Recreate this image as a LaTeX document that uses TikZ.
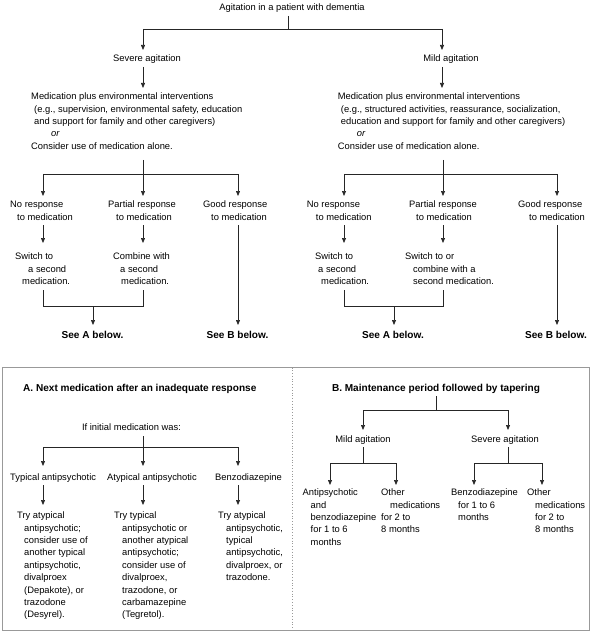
\documentclass[tikz,border=0pt]{standalone}
\usepackage{fontspec}
\setmainfont{Liberation Sans}
\usetikzlibrary{arrows.meta}
\newcommand\fs{\fontsize{9.4}{12.45}\selectfont}
\newcommand\fb{\fontsize{10.1}{12.45}\selectfont\bfseries}
\newcommand\ii[1]{\hspace*{#1bp}}
\begin{document}
\begin{tikzpicture}[x=1bp,y=-1bp,
 ln/.style={draw=black!85, line width=0.7bp},
 ar/.style={ln, -{Triangle[length=5bp,width=4bp]}},
 tl/.style={anchor=north west, inner sep=0pt, align=left, font=\fs, yshift=8.7bp},
 tc/.style={anchor=base, inner sep=0pt, font=\fs},
 tw/.style={anchor=base west, inner sep=0pt, font=\fs},
 bx/.style={draw=black!40, line width=1bp}]
\useasboundingbox (0,0) rectangle (592,632);

% ---------- top part ----------
\node[tc] (top) at (292,10.5) {Agitation in a patient with dementia};
\coordinate (t0) at (288,16);
\coordinate (j0) at (288,29);
\coordinate (jl) at (143,29);
\coordinate (jr) at (442,29);
\draw[ln] (t0) -- (j0);
\draw[ln] (jl) -- (jr);
\draw[ar] (jl) -- (143,50);
\draw[ar] (jr) -- (442,50);

\node[tc] (sev) at (147,61.5) {Severe agitation};
\node[tc] (mild) at (451,61.5) {Mild agitation};
\draw[ar] (143,67) -- (143,88);
\draw[ar] (442,67) -- (442,88);

\node[tl] (lblock) at (31,99.5) {\strut Medication plus environmental interventions\\
\ii{3}(e.g., supervision, environmental safety, education\\
\ii{3}and support for family and other caregivers)\\
\ii{20}\textit{or}\\
Consider use of medication alone.};
\node[tl] (rblock) at (337.7,99.5) {\strut Medication plus environmental interventions\\
\ii{3}(e.g., structured activities, reassurance, socialization,\\
\ii{3}education and support for family and other caregivers)\\
\ii{19}\textit{or}\\
Consider use of medication alone.};

% left branch split
\coordinate (l0) at (143,160);
\coordinate (l1) at (143,174);
\draw[ln] (l0) -- (l1);
\draw[ln] (43,174) -- (238,174);
\draw[ar] (43,174) -- (43,196);
\draw[ar] (l1) -- (143,196);
\draw[ar] (238,174) -- (238,196);
% right branch split
\coordinate (r0) at (443,160);
\coordinate (r1) at (443,174);
\draw[ln] (r0) -- (r1);
\draw[ln] (344,174) -- (557,174);
\draw[ar] (344,174) -- (344,196);
\draw[ar] (r1) -- (443,196);
\draw[ar] (557,174) -- (557,196);

% responses
\node[tl] (lno) at (10,207.5) {\strut No response\\ \ii{7}to medication};
\node[tl] (lpart) at (108,207.5) {\strut Partial response\\ \ii{8}to medication};
\node[tl] (lgood) at (203,207.5) {\strut Good response\\ \ii{8}to medication};
\node[tl] (rno) at (306.7,207.5) {\strut No response\\ \ii{9}to medication};
\node[tl] (rpart) at (409,207.5) {\strut Partial response\\ \ii{7}to medication};
\node[tl] (rgood) at (518,207.5) {\strut Good response\\ \ii{11}to medication};

\draw[ar] (43,225) -- (43,243);
\draw[ar] (143,225) -- (143,243);
\draw[ar] (238,225) -- (238,325);
\draw[ar] (344,225) -- (344,243);
\draw[ar] (443,225) -- (443,243);
\draw[ar] (557,225) -- (557,325);

\node[tl] (lsw) at (15,259.5) {\strut Switch to\\ \ii{13}a second\\ \ii{7}medication.};
\node[tl] (lcomb) at (113,259.5) {\strut Combine with\\ \ii{7}a second\\ \ii{8}medication.};
\node[tl] (rsw) at (315,259.5) {\strut Switch to\\ \ii{3}a second\\ \ii{6}medication.};
\node[tl] (rcomb) at (405,259.5) {\strut Switch to or\\ \ii{8}combine with a\\ \ii{8}second medication.};

\draw[ln] (43,290) -- (43,306) -- (143,306) -- (143,290);
\draw[ar] (93,306) -- (93,325);
\draw[ln] (344,290) -- (344,306) -- (443,306) -- (443,290);
\draw[ar] (394,306) -- (394,325);

\node[tc,font=\fb] (sA1) at (92.5,338.5) {See A below.};
\node[tc,font=\fb] (sB1) at (237.5,338.5) {See B below.};
\node[tc,font=\fb] (sA2) at (393,338.5) {See A below.};
\node[tc,font=\fb] (sB2) at (556,338.5) {See B below.};

% ---------- box ----------
\draw[bx] (2.5,367.5) rectangle (589.5,630);
\draw[draw=black!40, line width=0.8bp, dotted] (292,367.5) -- (292,630);

% Panel A
\node[tw,font=\fb] (atitle) at (23,391) {A. Next medication after an inadequate response};
\node[tc] (ifinit) at (131.5,430) {If initial medication was:};
\draw[ln] (143,436) -- (143,447);
\draw[ln] (43,447) -- (238,447);
\draw[ar] (43,447) -- (43,466);
\draw[ar] (143,447) -- (143,466);
\draw[ar] (238,447) -- (238,466);
\node[tw] (typ) at (10,480.5) {Typical antipsychotic};
\node[tw] (atyp) at (107,480.5) {Atypical antipsychotic};
\node[tw] (benz) at (215,480.5) {Benzodiazepine};
\draw[ar] (43,485) -- (43,505);
\draw[ar] (143,485) -- (143,505);
\draw[ar] (238,485) -- (238,505);
\node[tl] (ta) at (17,518.5) {\strut Try atypical\\ \ii{7}antipsychotic;\\ \ii{7}consider use of\\ \ii{7}another typical\\ \ii{7}antipsychotic,\\ \ii{7}divalproex\\ \ii{7}(Depakote), or\\ \ii{7}trazodone\\ \ii{7}(Desyrel).};
\node[tl] (tb) at (114,518.5) {\strut Try typical\\ \ii{8}antipsychotic or\\ \ii{8}another atypical\\ \ii{8}antipsychotic;\\ \ii{8}consider use of\\ \ii{8}divalproex,\\ \ii{8}trazodone, or\\ \ii{8}carbamazepine\\ \ii{8}(Tegretol).};
\node[tl] (tc) at (218,518.5) {\strut Try atypical\\ \ii{8}antipsychotic,\\ \ii{8}typical\\ \ii{8}antipsychotic,\\ \ii{8}divalproex, or\\ \ii{8}trazodone.};

% Panel B
\node[tc,font=\fb] (btitle) at (436,391) {B. Maintenance period followed by tapering};
\draw[ln] (436,396) -- (436,410);
\draw[ln] (363,410) -- (508,410);
\draw[ar] (363,410) -- (363,430);
\draw[ar] (508,410) -- (508,430);
\node[tc] (bmild) at (363,442.5) {Mild agitation};
\node[tc] (bsev) at (505,442.5) {Severe agitation};
\draw[ln] (363,447) -- (363,463);
\draw[ln] (330,463) -- (396,463);
\draw[ar] (330,463) -- (330,485);
\draw[ar] (396,463) -- (396,485);
\draw[ln] (508,447) -- (508,463);
\draw[ln] (474,463) -- (542,463);
\draw[ar] (474,463) -- (474,485);
\draw[ar] (542,463) -- (542,485);
\node[tl] (b1) at (302.5,495.5) {\strut Antipsychotic\\ \ii{8}and\\ \ii{8}benzodiazepine\\ \ii{8}for 1 to 6\\ \ii{8}months};
\node[tl] (b2) at (381,495.5) {\strut Other\\ \ii{9}medications\\ for 2 to\\ 8 months};
\node[tl] (b3) at (451,495.5) {\strut Benzodiazepine\\ \ii{7}for 1 to 6\\ \ii{7}months};
\node[tl] (b4) at (527,495.5) {\strut Other\\ \ii{8}medications\\ \ii{8}for 2 to\\ \ii{8}8 months};
\end{tikzpicture}
\end{document}
